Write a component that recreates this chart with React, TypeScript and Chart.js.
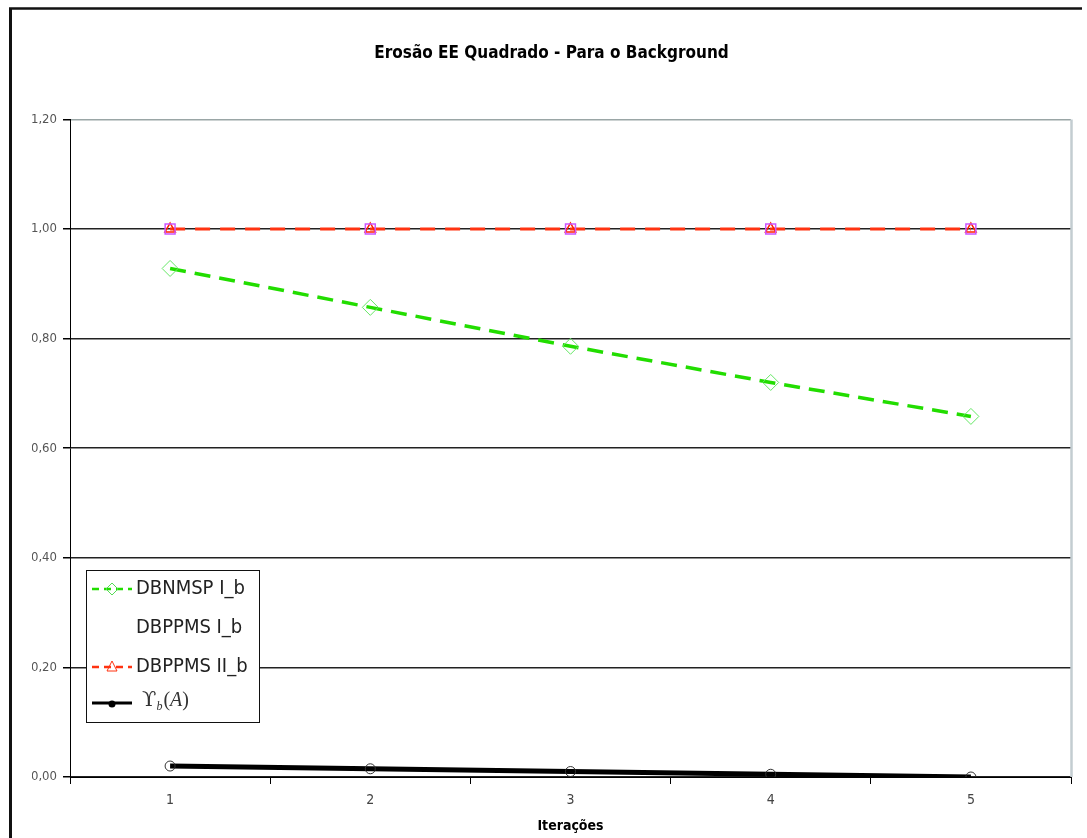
import React, { useEffect, useRef } from "react";
import { Chart, registerables } from "chart.js";

Chart.register(...registerables);

const titleText = "Erosão EE Quadrado - Para o Background";
const xAxisTitle = "Iterações";
const categories = ["1", "2", "3", "4", "5"];
const yTickLabels = ["0,00", "0,20", "0,40", "0,60", "0,80", "1,00", "1,20"];
const dbnmspIb = [0.928, 0.857, 0.786, 0.72, 0.658];
const dbppmsIb = [1.0, 1.0, 1.0, 1.0, 1.0];
const dbppmsIIb = [1.0, 1.0, 1.0, 1.0, 1.0];
const upsilonB = [0.02, 0.015, 0.01, 0.005, 0.0];

const NARROW = "'DejaVu Sans Condensed', 'Liberation Sans Narrow', 'DejaVu Sans', sans-serif";

const framePlugin = {
  id: "frame",
  beforeDraw(chart: any) {
    const ctx = chart.ctx;
    ctx.save();
    ctx.fillStyle = "#fff";
    ctx.fillRect(0, 0, chart.width, chart.height);
    ctx.strokeStyle = "#111";
    ctx.lineWidth = 2.5;
    ctx.beginPath();
    ctx.moveTo(9, 8.5);
    ctx.lineTo(1082, 8.5);
    ctx.stroke();
    ctx.lineWidth = 3;
    ctx.beginPath();
    ctx.moveTo(10.5, 8);
    ctx.lineTo(10.5, chart.height);
    ctx.stroke();
    ctx.restore();
  },
  beforeDatasetsDraw(chart: any) {
    const ctx = chart.ctx;
    const a = chart.chartArea;
    ctx.save();
    ctx.strokeStyle = "#c3cdd1";
    ctx.lineWidth = 2.5;
    ctx.beginPath();
    ctx.moveTo(a.right + 0.5, a.top);
    ctx.lineTo(a.right + 0.5, a.bottom);
    ctx.stroke();
    ctx.restore();
  },
};

const legendPlugin = {
  id: "boxLegend",
  afterDraw(chart: any) {
    const ctx = chart.ctx;
    const x0 = 86, y0 = 570, w = 173, h = 152;
    ctx.save();
    ctx.fillStyle = "#fff";
    ctx.fillRect(x0, y0, w, h);
    ctx.strokeStyle = "#111";
    ctx.lineWidth = 1;
    ctx.strokeRect(x0 + 0.5, y0 + 0.5, w, h);
    const rows = [589, 628, 667, 703];
    const lx1 = 92, lx2 = 132, mx = 112, tx = 136;
    // row 1: green dashed + diamond
    ctx.strokeStyle = "#22dd00";
    ctx.lineWidth = 2.5;
    ctx.setLineDash([7, 5]);
    ctx.beginPath();
    ctx.moveTo(lx1, rows[0]);
    ctx.lineTo(lx2, rows[0]);
    ctx.stroke();
    ctx.setLineDash([]);
    ctx.strokeStyle = "#55dd55";
    ctx.lineWidth = 1;
    ctx.beginPath();
    ctx.moveTo(mx, rows[0] - 6);
    ctx.lineTo(mx + 6, rows[0]);
    ctx.lineTo(mx, rows[0] + 6);
    ctx.lineTo(mx - 6, rows[0]);
    ctx.closePath();
    ctx.stroke();
    // row 3: red dashed + triangle
    ctx.strokeStyle = "#ff3311";
    ctx.lineWidth = 2.5;
    ctx.setLineDash([7, 5]);
    ctx.beginPath();
    ctx.moveTo(lx1, rows[2]);
    ctx.lineTo(lx2, rows[2]);
    ctx.stroke();
    ctx.setLineDash([]);
    ctx.lineWidth = 1;
    ctx.beginPath();
    ctx.moveTo(mx, rows[2] - 6);
    ctx.lineTo(mx + 5, rows[2] + 4);
    ctx.lineTo(mx - 5, rows[2] + 4);
    ctx.closePath();
    ctx.stroke();
    // row 4: black line + circle
    ctx.strokeStyle = "#000";
    ctx.lineWidth = 3;
    ctx.beginPath();
    ctx.moveTo(lx1, rows[3]);
    ctx.lineTo(lx2, rows[3]);
    ctx.stroke();
    ctx.fillStyle = "#000";
    ctx.beginPath();
    ctx.arc(mx, rows[3] + 1, 3.5, 0, Math.PI * 2);
    ctx.fill();
    // text
    ctx.fillStyle = "#222";
    ctx.textBaseline = "middle";
    ctx.textAlign = "left";
    ctx.font = "20px " + NARROW;
    ctx.fillText("DBNMSP I_b", tx, rows[0]);
    ctx.fillText("DBPPMS I_b", tx, rows[1]);
    ctx.fillText("DBPPMS II_b", tx, rows[2]);
    ctx.fillStyle = "#333";
    ctx.font = "21px 'DejaVu Serif', 'Liberation Serif', serif";
    ctx.fillText("ϒ", 142, rows[3] - 2);
    const uw = ctx.measureText("ϒ").width;
    ctx.font = "italic 12px 'Liberation Serif', serif";
    ctx.fillText("b", 142 + uw, rows[3] + 4);
    const bw = ctx.measureText("b").width;
    ctx.font = "20px 'Liberation Serif', serif";
    let px = 142 + uw + bw + 1;
    ctx.fillText("(", px, rows[3] - 2);
    px += ctx.measureText("(").width;
    ctx.font = "italic 20px 'Liberation Serif', serif";
    ctx.fillText("A", px, rows[3] - 2);
    px += ctx.measureText("A").width;
    ctx.font = "20px 'Liberation Serif', serif";
    ctx.fillText(")", px, rows[3] - 2);
    ctx.restore();
  },
};

export default function App() {
  const ref = useRef<HTMLCanvasElement | null>(null);
  useEffect(() => {
    document.body.style.margin = "0";
    const canvas = ref.current;
    if (!canvas) return;
    const chart = new Chart(canvas, {
      type: "line",
      data: {
        labels: categories,
        datasets: [
          {
            label: "DBNMSP I_b",
            data: dbnmspIb,
            borderColor: "#22dd00",
            borderWidth: 3.5,
            borderDash: [16, 9],
            pointStyle: "rectRot",
            pointRadius: 8,
            pointBorderColor: "#66e866",
            pointBackgroundColor: "rgba(0,0,0,0)",
            pointBorderWidth: 1,
            tension: 0,
          },
          {
            label: "DBPPMS I_b",
            data: dbppmsIb,
            showLine: false,
            pointStyle: "rect",
            pointRadius: 7,
            pointBorderColor: "#cc55ff",
            pointBackgroundColor: "rgba(0,0,0,0)",
            pointBorderWidth: 1.5,
          },
          {
            label: "DBPPMS II_b",
            data: dbppmsIIb,
            borderColor: "#ff3311",
            borderWidth: 3,
            borderDash: [15, 10],
            pointStyle: "triangle",
            pointRadius: 6,
            pointBorderColor: "#ff2200",
            pointBackgroundColor: "rgba(0,0,0,0)",
            pointBorderWidth: 1.5,
          },
          {
            label: "Υb(A)",
            data: upsilonB,
            borderColor: "#000",
            borderWidth: 5,
            pointStyle: "circle",
            pointRadius: 5,
            pointBorderColor: "#333",
            pointBackgroundColor: "rgba(0,0,0,0)",
            pointBorderWidth: 1,
            tension: 0,
          },
        ],
      },
      options: {
        responsive: false,
        animation: false,
        layout: { padding: { left: 32, right: 16, top: 0, bottom: 0 } },
        plugins: {
          legend: { display: false },
          tooltip: { enabled: false },
          title: {
            display: true,
            text: titleText,
            color: "#000",
            font: { family: NARROW, size: 17, weight: "bold" },
            padding: { top: 43, bottom: 56 },
          },
        },
        scales: {
          x: {
            type: "category",
            offset: true,
            grid: {
              offset: true,
              drawOnChartArea: false,
              tickLength: 7,
              color: "#000",
              tickColor: "#000",
            },
            border: { color: "#000", width: 1 },
            ticks: {
              color: "#444",
              font: { family: NARROW, size: 14 },
              padding: 8,
              maxRotation: 0,
            },
            title: {
              display: true,
              text: xAxisTitle,
              color: "#000",
              font: { family: NARROW, size: 14, weight: "bold" },
              padding: { top: 0, bottom: 3 },
            },
            afterFit(scale: any) {
              scale.height = 61;
            },
          },
          y: {
            min: 0,
            max: 1.2,
            ticks: {
              stepSize: 0.2,
              color: "#555",
              font: { family: NARROW, size: 13 },
              padding: 6,
              callback: (_v: any, i: number) => yTickLabels[i],
            },
            grid: {
              tickLength: 7,
              lineWidth: 1.5,
              color: (c: any) => (c.index === 6 ? "#9aa6a6" : "#222"),
              tickColor: "#000",
            },
            border: { color: "#000", width: 1 },
            afterFit(scale: any) {
              scale.width = 38;
            },
          },
        },
      },
      plugins: [framePlugin, legendPlugin],
    });
    return () => chart.destroy();
  }, []);
  return (
    <div style={{ position: "absolute", left: 0, top: 0, width: 1087, height: 838, background: "#fff" }}>
      <canvas ref={ref} width={1087} height={838} style={{ display: "block", width: 1087, height: 838 }} />
    </div>
  );
}
